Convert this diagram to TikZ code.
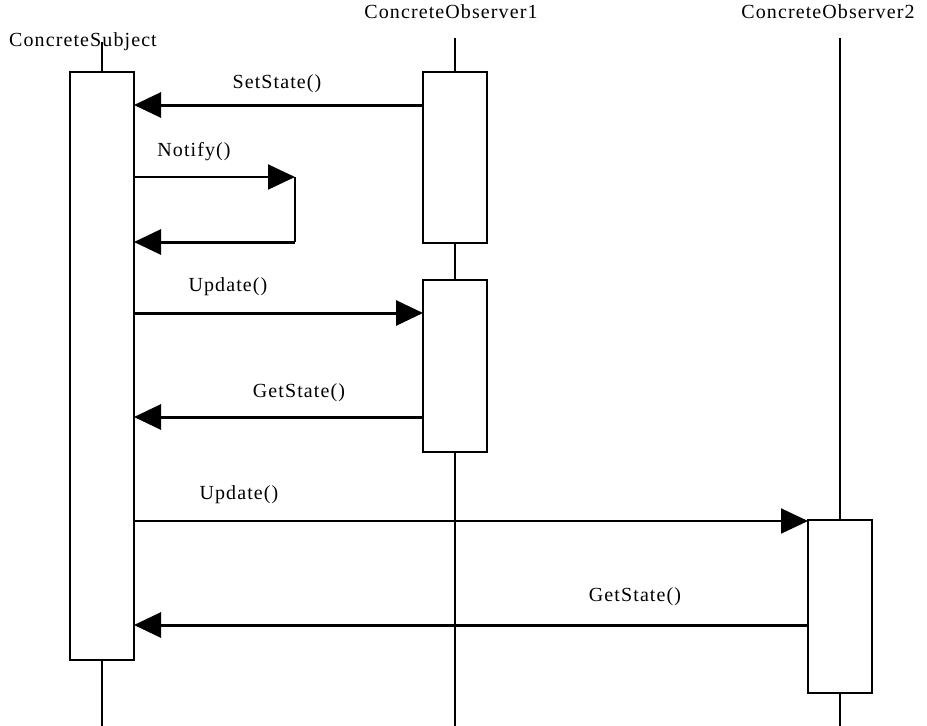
\documentclass[tikz,border=0pt]{standalone}
\usepackage{fontspec}
\setmainfont{Liberation Serif}[LetterSpace=5.5]
\usetikzlibrary{arrows.meta}
\begin{document}
\begin{tikzpicture}[x=1pt,y=-1pt,
  life/.style={line width=1.5pt},
  actbox/.style={draw, line width=2pt, fill=white, inner sep=0pt, outer sep=0pt,
                 minimum width=64pt},
  tip/.style={-{Triangle[length=27pt,width=25pt]}},
  msg/.style={line width=3pt, tip},
  thinmsg/.style={line width=2pt, tip},
  lbl/.style={font=\fontsize{20}{20}\selectfont, anchor=base, inner sep=0pt}]
\useasboundingbox (0,0) rectangle (927,726);

% object names
\node[lbl] (nSubj) at (83,46) {ConcreteSubject};
\node[lbl] (nObs1) at (451,18) {ConcreteObserver1};
\node[lbl] (nObs2) at (828,18) {ConcreteObserver2};

% activation boxes
\node[actbox, minimum height=588pt] (subj) at (102,366) {};
\node[actbox, minimum height=171pt] (o1a) at (455,157.5) {};
\node[actbox, minimum height=172pt] (o1b) at (455,366) {};
\node[actbox, minimum height=173pt] (o2) at (840,606.5) {};

% lifelines
\coordinate (sTop) at (102,42);
\coordinate (sBot) at (102,726);
\coordinate (o1Top) at (455,38);
\coordinate (o1Bot) at (455,726);
\coordinate (o2Top) at (840,38);
\coordinate (o2Bot) at (840,726);
\draw[life] (sTop) -- (subj.north);
\draw[life] (subj.south) -- (sBot);
\draw[life] (o1Top) -- (o1a.north);
\draw[life] (o1a.south) -- (o1b.north);
\draw[life] (o1b.south) -- (o1Bot);
\draw[life] (o2Top) -- (o2.north);
\draw[life] (o2.south) -- (o2Bot);

% messages
\draw[msg] (o1a.west |- 0,105) -- (subj.east |- 0,105);
\node[lbl] (lSet) at (277,88) {SetState()};

\coordinate (nTurnA) at (295,177);
\coordinate (nTurnB) at (295,242);
\draw[thinmsg] (subj.east |- nTurnA) -- (nTurnA);
\draw[line width=2pt] (nTurnA) -- (nTurnB);
\draw[msg] (nTurnB) -- (subj.east |- nTurnB);
\node[lbl] (lNotify) at (194,156) {Notify()};

\draw[msg] (subj.east |- 0,313) -- (o1b.west |- 0,313);
\node[lbl] (lUpd1) at (228,291) {Update()};

\draw[msg] (o1b.west |- 0,417) -- (subj.east |- 0,417);
\node[lbl] (lGet1) at (299,397) {GetState()};

\draw[thinmsg] (subj.east |- 0,521) -- (o2.west |- 0,521);
\node[lbl] (lUpd2) at (239,499) {Update()};

\draw[msg] (o2.west |- 0,625) -- (subj.east |- 0,625);
\node[lbl] (lGet2) at (635,601) {GetState()};
\end{tikzpicture}
\end{document}
